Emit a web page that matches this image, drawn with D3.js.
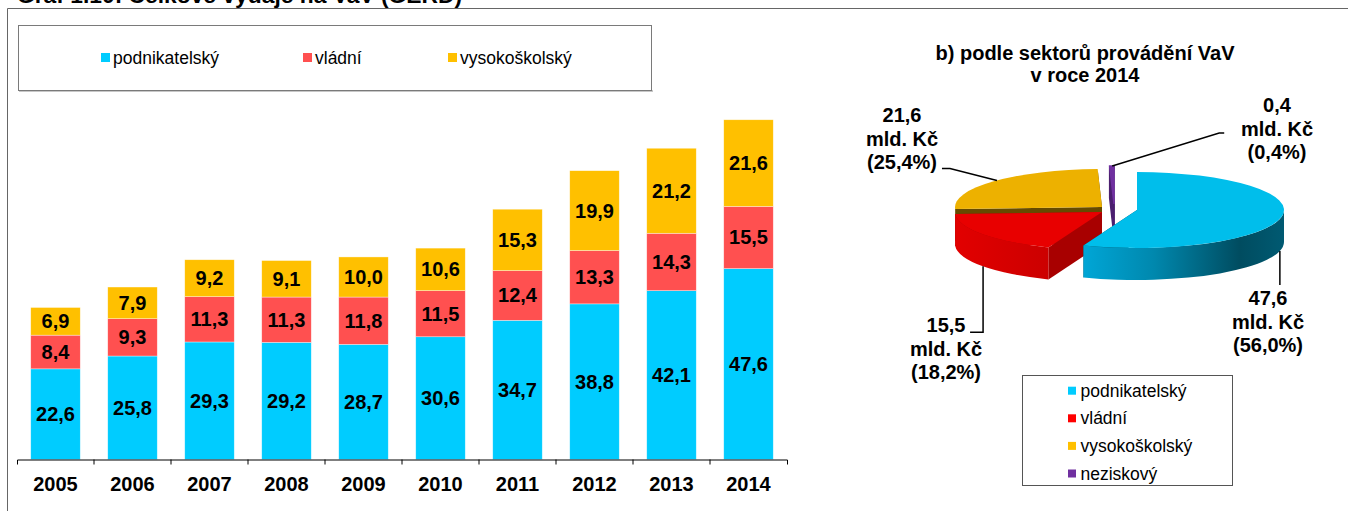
<!DOCTYPE html>
<html>
<head>
<meta charset="utf-8">
<script src="https://cdn.jsdelivr.net/npm/d3@7"></script>
<style>
  html, body { margin: 0; padding: 0; background: #fff; }
  svg { display: block; font-family: Arial, "Liberation Sans", sans-serif; }
</style>
</head>
<body>
<svg id="chart" width="1348" height="511"></svg>
<script>
// ---------------- DATA ----------------
const figureTitle = "Graf 1.10: Celkové výdaje na VaV (GERD)";
const years = ["2005","2006","2007","2008","2009","2010","2011","2012","2013","2014"];
const seriesNames = ["podnikatelský", "vládní", "vysokoškolský"];
const podnikatelsky = [22.6, 25.8, 29.3, 29.2, 28.7, 30.6, 34.7, 38.8, 42.1, 47.6];
const vladni        = [8.4, 9.3, 11.3, 11.3, 11.8, 11.5, 12.4, 13.3, 14.3, 15.5];
const vysokoskolsky = [6.9, 7.9, 9.2, 9.1, 10.0, 10.6, 15.3, 19.9, 21.2, 21.6];

const pieTitle = ["b) podle sektorů provádění VaV", "v roce 2014"];
const pieSectors = ["podnikatelský", "vládní", "vysokoškolský", "neziskový"];
const pieValues = [47.6, 15.5, 21.6, 0.4];
const piePercents = [56.0, 18.2, 25.4, 0.4];
const unitLabel = "mld. Kč";

// ---------------- STYLE ----------------
const barColors = ["#00CCFF", "#FF5050", "#FFC000"];
const pieLegendColors = ["#00CCFF", "#FF0000", "#FFC000", "#7030A0"];
const pieTop = ["#00BEEB", "#E80000", "#EDB100", "#7030A0"];
const pieWallDark = ["#004C60", "#A80000", "#654A00", "#4B1F70"];

const locale = d3.formatLocale({decimal: ",", thousands: " ", grouping: [3], currency: ["", ""]});
const fmt = locale.format(".1f");

const svg = d3.select("#chart");

// frame + cut title
svg.append("text").attr("x", 17).attr("y", 3)
  .attr("font-size", 22).attr("font-weight", "bold")
  .attr("textLength", 445).attr("lengthAdjust", "spacingAndGlyphs")
  .text(figureTitle);
svg.append("path").attr("d", "M7.5,511 V8.5 H1348")
  .attr("fill", "none").attr("stroke", "#666").attr("stroke-width", 1);

// ---------------- BAR CHART ----------------
const rows = years.map((yr, i) => ({year: yr, [seriesNames[0]]: podnikatelsky[i], [seriesNames[1]]: vladni[i], [seriesNames[2]]: vysokoskolsky[i]}));
const stack = d3.stack().keys(seriesNames)(rows);

const x = d3.scaleBand().domain(years).range([17, 787]).paddingInner(0.357).paddingOuter(0.1785);
const y = d3.scaleLinear().domain([0, 90]).range([459.5, 98.5]);

const gBars = svg.append("g");
stack.forEach((layer, si) => {
  const g = gBars.append("g");
  g.selectAll("rect").data(layer).enter().append("rect")
    .attr("x", d => x(d.data.year))
    .attr("width", x.bandwidth())
    .attr("y", d => y(d[1]))
    .attr("height", d => y(d[0]) - y(d[1]))
    .attr("fill", barColors[si])
    .attr("stroke", "rgba(255,255,255,0.6)").attr("stroke-width", 0.6);
  g.selectAll("text").data(layer).enter().append("text")
    .attr("x", d => x(d.data.year) + x.bandwidth() / 2)
    .attr("y", d => (y(d[0]) + y(d[1])) / 2 + 7)
    .attr("text-anchor", "middle")
    .attr("font-size", 20).attr("font-weight", "bold").attr("fill", "#000")
    .text(d => fmt(d[1] - d[0]));
});

// x axis
const axis = svg.append("g").attr("transform", "translate(0,459.5)")
  .call(d3.axisBottom(x).tickSize(0).tickSizeOuter(5).tickPadding(17));
axis.select(".domain").attr("stroke", "#000");
axis.selectAll(".tick text").attr("font-size", 20).attr("font-weight", "bold")
  .attr("font-family", "Arial, 'Liberation Sans', sans-serif").attr("fill", "#000");
const gap = (x.step() - x.bandwidth()) / 2;
axis.selectAll(".bound").data(years.slice(1)).enter().append("line")
  .attr("x1", d => x(d) - gap).attr("x2", d => x(d) - gap)
  .attr("y1", 0).attr("y2", 5).attr("stroke", "#000");

// bar legend
const lg = svg.append("g");
lg.append("line").attr("x1", 19).attr("x2", 653).attr("y1", 91).attr("y2", 91).attr("stroke", "#b5b5b5").attr("stroke-width", 1.5);
lg.append("rect").attr("x", 18.5).attr("y", 25.5).attr("width", 633).attr("height", 65)
  .attr("fill", "#fff").attr("stroke", "#7a7a7a");
const legX = [101, 303, 448];
seriesNames.forEach((n, i) => {
  lg.append("rect").attr("x", legX[i]).attr("y", 53).attr("width", 9).attr("height", 9).attr("fill", barColors[i]);
  lg.append("text").attr("x", legX[i] + 12).attr("y", 64).attr("font-size", 17.5).attr("fill", "#000").text(n);
});

// ---------------- PIE (3D) ----------------
const P = {cx: 1102, cy: 207, rx: 147, ry: 38, h: 32};
const offsets = [[35, 3], [0, 5], [0, 0], [12, -3]];
const arcs = d3.pie().sort(null).startAngle(0).endAngle(2 * Math.PI)(pieValues);

function pt(c, a, dh = 0) { return [c[0] + P.rx * Math.sin(a), c[1] - P.ry * Math.cos(a) + dh]; }
function topPath(c, a0, a1) {
  const p0 = pt(c, a0), p1 = pt(c, a1);
  return `M${c[0]},${c[1]}L${p0}A${P.rx},${P.ry} 0 ${a1 - a0 > Math.PI ? 1 : 0} 1 ${p1}Z`;
}
function outerPath(c, a0, a1) {
  const s = Math.max(a0, Math.PI / 2), e = Math.min(a1, 3 * Math.PI / 2);
  if (s >= e) return null;
  const ps = pt(c, s), pe = pt(c, e), pe2 = pt(c, e, P.h), ps2 = pt(c, s, P.h);
  return `M${ps}A${P.rx},${P.ry} 0 0 1 ${pe}L${pe2}A${P.rx},${P.ry} 0 0 0 ${ps2}Z`;
}
function radialPath(c, a) {
  const p = pt(c, a), p2 = pt(c, a, P.h);
  return `M${c[0]},${c[1]}L${p}L${p2}L${c[0]},${c[1] + P.h}Z`;
}

const defs = svg.append("defs");
const gradSpecs = [
  [["0", "#00A6D6"], ["0.35", "#0088AE"], ["0.78", "#004C60"], ["1", "#005A72"]],
  [["0", "#E20000"], ["1", "#CC0000"]],
  [["0", "#6A4E00"], ["1", "#5E4500"]],
  [["0", "#5A2787"], ["1", "#4B1F70"]]
];
const centers = arcs.map((a, i) => [P.cx + offsets[i][0], P.cy + offsets[i][1]]);
arcs.forEach((a, i) => {
  const c = centers[i];
  const s = Math.max(a.startAngle, Math.PI / 2), e = Math.min(a.endAngle, 3 * Math.PI / 2);
  const xs = s < e ? [pt(c, e)[0], pt(c, s)[0]] : [c[0] - P.rx, c[0] + P.rx];
  const gr = defs.append("linearGradient").attr("id", "wall" + i)
    .attr("gradientUnits", "userSpaceOnUse")
    .attr("x1", Math.min(...xs)).attr("x2", Math.max(...xs)).attr("y1", 0).attr("y2", 0);
  gradSpecs[i].forEach(st => gr.append("stop").attr("offset", st[0]).attr("stop-color", st[1]));
});

const drawOrder = [2, 3, 1, 0];
const gPie = svg.append("g");
drawOrder.forEach(i => {
  const a = arcs[i], c = centers[i];
  const g = gPie.append("g");
  const thin = i === 3;
  [a.startAngle, a.endAngle].forEach(ang => {
    g.append("path").attr("d", radialPath(c, ang)).attr("fill", pieWallDark[i])
      .attr("stroke", thin ? pieWallDark[i] : "none").attr("stroke-width", thin ? 1.5 : 0);
  });
  const op = outerPath(c, a.startAngle, a.endAngle);
  if (op) g.append("path").attr("d", op).attr("fill", `url(#wall${i})`);
  g.append("path").attr("d", topPath(c, a.startAngle, a.endAngle)).attr("fill", pieTop[i])
    .attr("stroke", thin ? pieTop[i] : "none").attr("stroke-width", thin ? 1.5 : 0);
});

// pie title
pieTitle.forEach((t, k) => {
  svg.append("text").attr("x", 1085).attr("y", 60 + k * 22).attr("text-anchor", "middle")
    .attr("font-size", 20).attr("font-weight", "bold").attr("fill", "#000").text(t);
});

// pie labels: anchor angle on slice edge (top face or wall bottom), leader bends, text block
const labelLayout = [
  {ang: 103.6, wall: true,  bends: [[0, 34]], tx: 1268, ty: 305},
  {ang: 234,   wall: true,  bends: [[0, 66], [-13, 66]], tx: 946, ty: 332},
  {ang: 314.4, wall: false, bends: [[-47, -12], [-55, -12]], tx: 902, ty: 122},
  {ang: 359.3, wall: false, bends: [[107, -33], [112, -33]], tx: 1277, ty: 112}
];
const gLab = svg.append("g");
arcs.forEach((a, i) => {
  const L = labelLayout[i], c = centers[i];
  const p = pt(c, L.ang * Math.PI / 180, L.wall ? P.h : 0);
  const pts = [p].concat(L.bends.map(b => [p[0] + b[0], p[1] + b[1]]));
  gLab.append("polyline").attr("points", pts.map(q => q.join(",")).join(" "))
    .attr("fill", "none").attr("stroke", "#000").attr("stroke-width", 1.5);
  const lines = [fmt(pieValues[i]), unitLabel, "(" + fmt(piePercents[i]) + "%)"];
  lines.forEach((t, k) => {
    gLab.append("text").attr("x", L.tx).attr("y", L.ty + k * 23.5).attr("text-anchor", "middle")
      .attr("font-size", 20).attr("font-weight", "bold").attr("fill", "#000").text(t);
  });
});

// pie legend
const pl = svg.append("g");
pl.append("rect").attr("x", 1022.5).attr("y", 375.5).attr("width", 210).attr("height", 110)
  .attr("fill", "#fff").attr("stroke", "#555");
pieSectors.forEach((n, i) => {
  const cy = 390.7 + i * 27.6;
  pl.append("rect").attr("x", 1068).attr("y", cy - 4).attr("width", 8).attr("height", 8).attr("fill", pieLegendColors[i]);
  pl.append("text").attr("x", 1080.5).attr("y", cy + 6).attr("font-size", 17.5).attr("fill", "#000").text(n);
});
</script>
</body>
</html>
